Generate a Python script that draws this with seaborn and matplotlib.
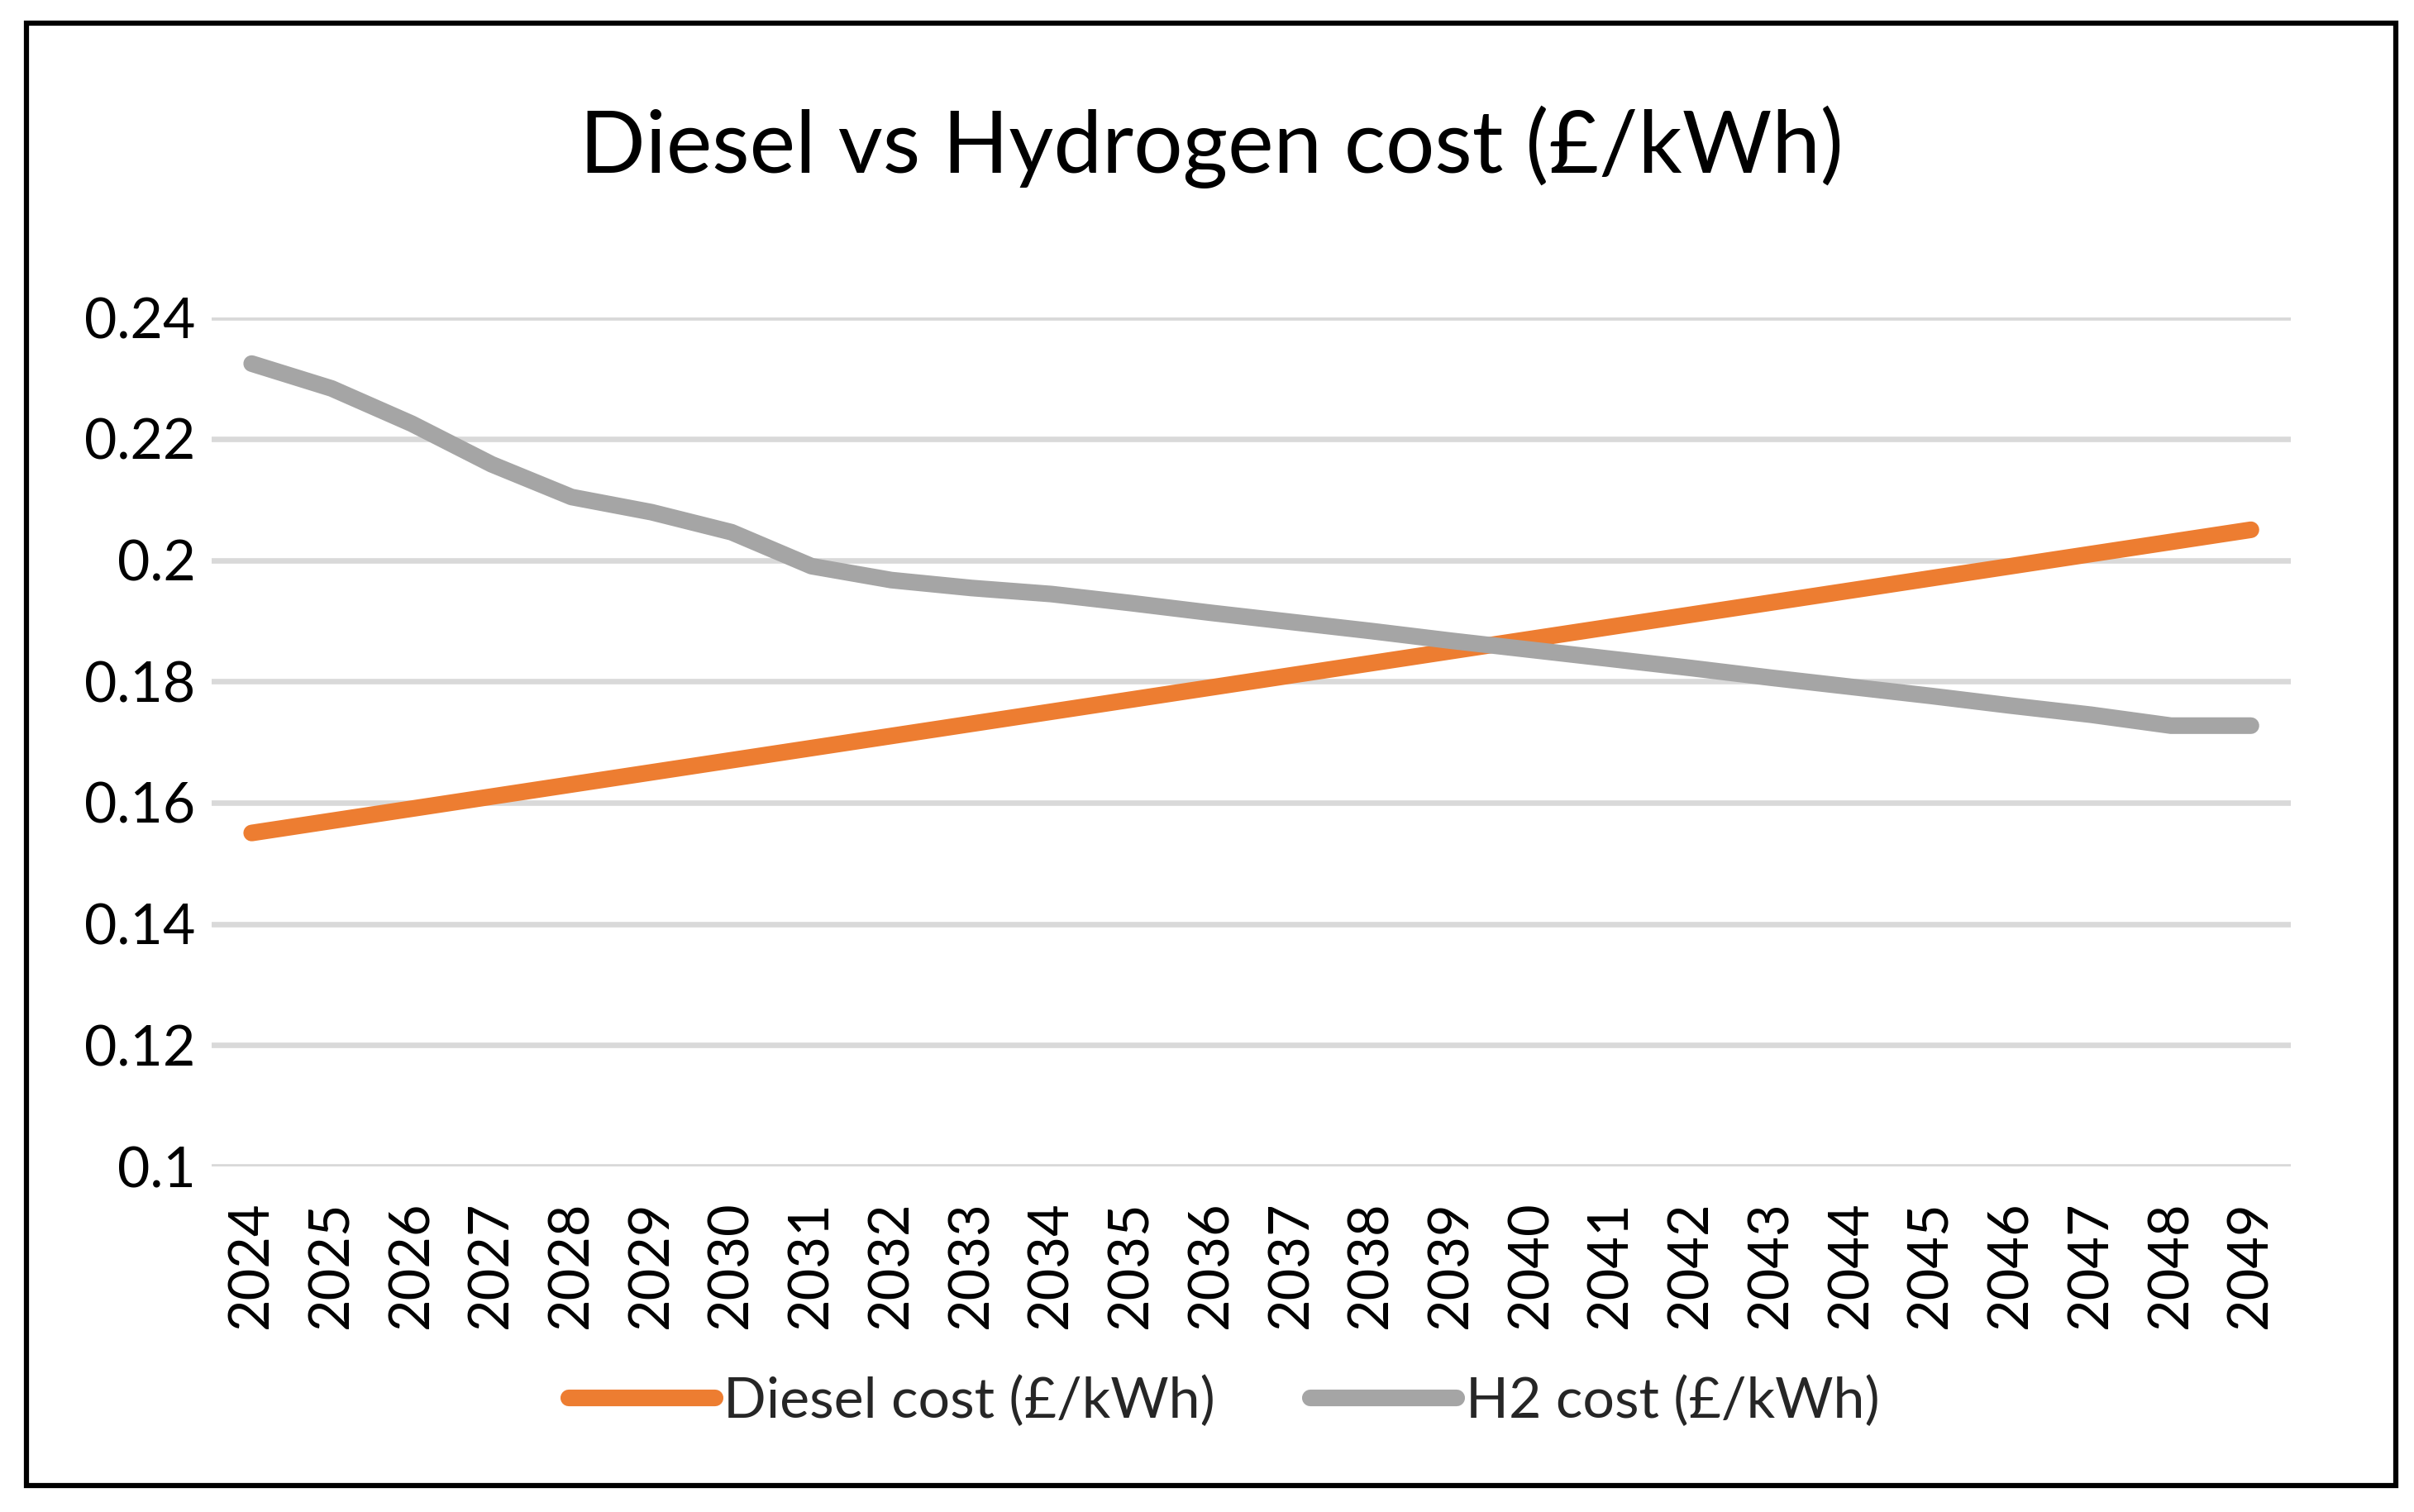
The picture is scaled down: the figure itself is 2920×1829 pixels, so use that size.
import matplotlib
matplotlib.use("Agg")
import matplotlib.pyplot as plt
import seaborn as sns
import pandas as pd
from matplotlib.patches import Rectangle

years = list(range(2024, 2050))
diesel_cost = [0.155, 0.157, 0.159, 0.161, 0.163, 0.165, 0.167, 0.169, 0.171, 0.173,
               0.175, 0.177, 0.179, 0.181, 0.183, 0.185, 0.187, 0.189, 0.191, 0.193,
               0.195, 0.197, 0.199, 0.201, 0.203, 0.205]
h2_cost = [0.2324, 0.2283, 0.2225, 0.2158, 0.2104, 0.2079, 0.2046, 0.1990, 0.1967, 0.1954,
           0.1944, 0.1929, 0.1913, 0.1898, 0.1883, 0.1867, 0.1852, 0.1837, 0.1822, 0.1806,
           0.1791, 0.1776, 0.1760, 0.1745, 0.1727, 0.1727]
series_names = ["Diesel cost (£/kWh)", "H2 cost (£/kWh)"]
colors = ["#ED7D31", "#A5A5A5"]
y_ticks = [0.1, 0.12, 0.14, 0.16, 0.18, 0.2, 0.22, 0.24]
y_tick_labels = ["0.1", "0.12", "0.14", "0.16", "0.18", "0.2", "0.22", "0.24"]
title = "Diesel vs Hydrogen cost (£/kWh)"

df = pd.DataFrame({
    "Year": years * 2,
    "Cost": diesel_cost + h2_cost,
    "Series": [series_names[0]] * len(years) + [series_names[1]] * len(years),
})

sns.set_theme(style="white")
plt.rcParams["font.family"] = ["Lato", "DejaVu Sans"]

fig = plt.figure(figsize=(29.2, 18.29), dpi=100)
ax = fig.add_axes([0.0877, 0.2285, 0.9490 - 0.0877, 0.790 - 0.2285])

sns.lineplot(data=df, x="Year", y="Cost", hue="Series", palette=colors,
             linewidth=14.5, ax=ax, legend=True, solid_capstyle="round",
             clip_on=False, zorder=3)

ax.set_xlim(2023.5, 2049.5)
ax.set_ylim(0.1, 0.24)
ax.set_yticks(y_ticks)
ax.set_yticklabels(y_tick_labels)
ax.set_xticks(years)
ax.set_xticklabels([str(y) for y in years], rotation=90)
ax.tick_params(axis="y", labelsize=49, length=0, pad=14, colors="#000000")
ax.tick_params(axis="x", labelsize=48, length=0, pad=30, colors="#000000")
ax.grid(axis="y", color="#D9D9D9", linewidth=4.8, zorder=0)
ax.grid(axis="x", visible=False)
ax.set_axisbelow(True)
for s in ax.spines.values():
    s.set_visible(False)
ax.set_xlabel("")
ax.set_ylabel("")

leg = ax.legend(loc="center", bbox_to_anchor=(0.507, 0.073),
                bbox_transform=fig.transFigure, ncol=2, frameon=False,
                fontsize=49, handlelength=2.6, handletextpad=0.15,
                columnspacing=1.7)
for line in leg.get_lines():
    line.set_linewidth(14.5)
    line.set_solid_capstyle("round")

fig.text(0.502, 0.903, title, ha="center", va="center", fontsize=75.5, color="#000000")

border = Rectangle((0.011, 0.0175), 0.9925 - 0.011, 0.9847 - 0.0175,
                   transform=fig.transFigure, fill=False, edgecolor="#000000",
                   linewidth=4.5)
fig.patches.append(border)

fig.savefig("out.png", dpi=100, facecolor="white")
